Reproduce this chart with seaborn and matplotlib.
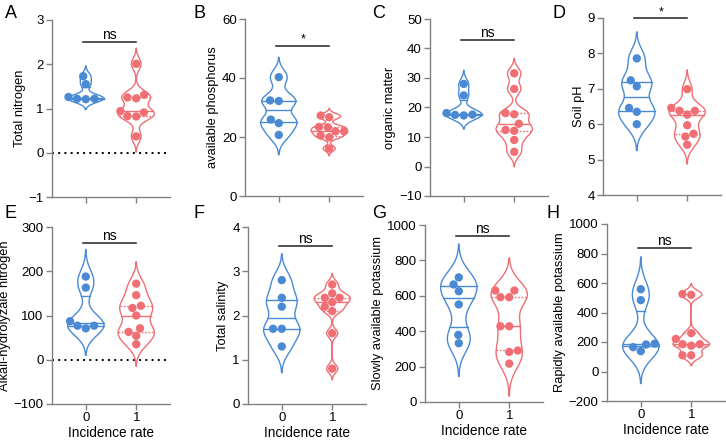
import numpy as np
import pandas as pd
import matplotlib
matplotlib.use("Agg")
import matplotlib.pyplot as plt
import seaborn as sns

# values (group 0 = blue, group 1 = red)
groups = ["0", "1"]
pal = {"0": "#4a8ad4", "1": "#ef6f74"}

total_nitrogen_0 = [1.73, 1.55, 1.21, 1.26, 1.22, 1.22]
total_nitrogen_1 = [2.01, 1.25, 1.23, 1.31, 0.94, 0.91, 0.83, 0.82, 0.37]

phosphorus_0 = [40.3, 32.4, 32.2, 25.9, 24.7, 20.7]
phosphorus_1 = [27.3, 26.7, 23.3, 23.4, 21.9, 21.9, 20.5, 19.9, 16.1]

organic_0 = [28.0, 24.1, 18.1, 17.3, 17.6, 17.5]
organic_1 = [31.6, 26.3, 18.1, 17.7, 14.5, 12.1, 12.4, 9.0, 5.0]

ph_0 = [7.86, 7.24, 7.07, 6.46, 6.35, 6.0]
ph_1 = [6.99, 6.46, 6.38, 6.38, 6.27, 5.97, 5.73, 5.65, 5.42]

alkali_n_0 = [188, 163, 87, 71, 77, 77]
alkali_n_1 = [172, 146, 117, 122, 100, 71, 63, 54, 35]

salinity_0 = [2.8, 2.4, 2.2, 1.7, 1.7, 1.3]
salinity_1 = [2.7, 2.5, 2.3, 2.4, 2.4, 2.1, 2.2, 1.6, 0.8]

slow_k_0 = [704, 664, 626, 551, 379, 332]
slow_k_1 = [630, 630, 592, 592, 428, 428, 291, 283, 217]

rapid_k_0 = [558, 484, 189, 183, 165, 138]
rapid_k_1 = [525, 520, 260, 221, 185, 175, 185, 110, 110]

letters = ["A", "B", "C", "D", "E", "F", "G", "H"]
ylabels = ["Total nitrogen", "available phosphorus", "organic matter", "Soil pH",
           "Alkali-hydrolyzale nitrogen", "Total salinity",
           "Slowly available potassium", "Rapidly available potassium"]
data0 = [total_nitrogen_0, phosphorus_0, organic_0, ph_0, alkali_n_0, salinity_0, slow_k_0, rapid_k_0]
data1 = [total_nitrogen_1, phosphorus_1, organic_1, ph_1, alkali_n_1, salinity_1, slow_k_1, rapid_k_1]
sig = ["ns", "*", "ns", "*", "ns", "ns", "ns", "ns"]
sig_y = [2.5, 51, 43, 9.0, 264, 3.58, 938, 835]
yticks = [np.arange(-1, 3.1, 1), np.arange(0, 61, 20), np.arange(-10, 51, 10), np.arange(4, 9.1, 1),
          np.arange(-100, 301, 100), np.arange(0, 4.1, 1), np.arange(0, 1001, 200), np.arange(-200, 1001, 200)]
zero_line = [True, False, False, False, True, False, False, False]

# axes placement in pixels (left, top) of a 726x443 figure
W, H = 726, 443
ax_left = [52, 245, 430, 603, 52, 248, 425, 607]
ax_top = [20, 19, 19, 18, 227, 227, 225, 224]
ax_h = 177
ax_w = 118
letter_x = [5, 193, 372, 552, 5, 193, 372, 547]
letter_y = [13, 13, 13, 13, 214, 214, 214, 214]


def prism_bw(kde):
    # silverman's rule with the IQR guard (prism-ish smoothing)
    x = kde.dataset.ravel()
    sd = x.std(ddof=1)
    iqr = np.subtract(*np.percentile(x, [75, 25]))
    spread = min(sd, iqr / 1.34) if iqr > 0 else sd
    return 0.9 * spread * x.size ** -0.2 / sd


plt.rcParams['font.family'] = ['Liberation Sans', 'DejaVu Sans']
fig = plt.figure(figsize=(W / 100, H / 100), dpi=100)

for i in range(8):
    ax = fig.add_axes([ax_left[i] / W, 1 - (ax_top[i] + ax_h) / H, ax_w / W, ax_h / H])
    df = pd.DataFrame({"group": ["0"] * len(data0[i]) + ["1"] * len(data1[i]),
                       "value": data0[i] + data1[i]})
    sns.violinplot(data=df, x="group", y="value", hue="group", order=groups, hue_order=groups,
                   palette=pal, fill=False, inner="quart", density_norm="count", width=0.72,
                   cut=2.7, bw_method=prism_bw, bw_adjust=0.72, linewidth=1, legend=False, ax=ax)
    # median solid, quartiles solid for group 0 and dotted for group 1
    lns = list(ax.lines)
    for g in [0, 1]:
        gl = [ln for ln in lns if (np.mean(ln.get_xdata()) > 0.5) == bool(g)]
        gl.sort(key=lambda ln: np.mean(ln.get_ydata()))
        for k, ln in enumerate(gl):
            ln.set_linewidth(1)
            if g == 1 and k != 1:
                ln.set_linestyle((0, (1.2, 1.2)))
            else:
                ln.set_linestyle("-")
    sns.swarmplot(data=df, x="group", y="value", hue="group", order=groups, hue_order=groups,
                  palette=pal, size=6, legend=False, ax=ax)

    if zero_line[i]:
        ax.axhline(0, color="black", ls=(0, (1, 2.2)), lw=1.4, zorder=0)

    ax.plot([-0.05, 1.0], [sig_y[i], sig_y[i]], color="#222222", lw=1.1, clip_on=False)
    ax.text(0.475, sig_y[i], sig[i], ha="center", va="bottom", fontsize=10 if sig[i] == "ns" else 9)

    ax.set_ylim(yticks[i][0], yticks[i][-1])
    ax.set_yticks(yticks[i])
    ax.set_xlim(-0.67, 1.67)
    ax.set_ylabel(ylabels[i], fontsize=9.3, labelpad=2)
    if i >= 4:
        ax.set_xlabel("Incidence rate", fontsize=9.8, labelpad=1)
        ax.set_xticks([0, 1], ["0", "1"])
    else:
        ax.set_xlabel("")
        ax.set_xticks([0, 1], ["", ""])
    ax.tick_params(labelsize=9.5, color="#808080", length=4, width=1, pad=2)
    for s in ["top", "right"]:
        ax.spines[s].set_visible(False)
    for s in ["left", "bottom"]:
        ax.spines[s].set_color("#808080")
        ax.spines[s].set_linewidth(1)
    fig.text(letter_x[i] / W, 1 - letter_y[i] / H, letters[i], fontsize=13, va="center", ha="left")

fig.savefig("out.png", dpi=100)
